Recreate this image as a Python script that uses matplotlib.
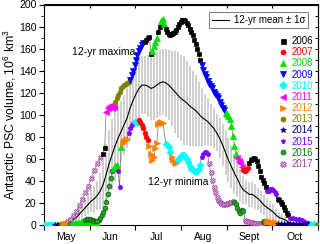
import matplotlib
matplotlib.use('Agg')
import matplotlib.pyplot as plt
import numpy as np
from matplotlib.lines import Line2D

plt.rcParams['font.family'] = ['Liberation Sans', 'DejaVu Sans']
plt.rcParams['mathtext.default'] = 'regular'

# ---------------- data ----------------
years = [2006, 2007, 2008, 2009, 2010, 2011, 2012, 2013, 2014, 2015, 2016, 2017]
year_colors = ['#000000', '#ff0000', '#00e000', '#0000ff', '#00ffff', '#ff00ff',
               '#ff8000', '#808000', '#000080', '#8000ff', '#008000', '#a040a0']
year_markers = ['s', 'o', '^', 'v', 'D', '<', '>', 'o', '*', 'p', 'o', 'X']

# 12-yr mean and standard deviation (day of year)
mean_days = [133, 135, 137, 139, 141, 143, 145, 147, 149, 151, 153, 155, 157, 159, 161, 163,
             165, 167, 169, 171, 173, 175, 177, 179, 181, 183, 185, 187, 189, 191, 193, 195,
             197, 199, 201, 203, 205, 207, 209, 211, 213, 215, 217, 219, 221, 223, 225, 227,
             229, 231, 233, 235, 237, 239, 241, 243, 245, 247, 249, 251, 253, 255, 257, 259,
             261, 263, 265, 267, 269, 271, 273, 275, 277, 279, 281, 283, 285, 287, 289, 291, 293]
mean_vals = [0, 1, 2, 3, 5, 7, 10, 13, 16, 19, 22, 24, 27, 31, 37, 46,
             56, 64, 72, 79, 85, 91, 97, 106, 113, 119, 124, 127, 127, 126, 124, 125,
             127, 129, 130, 129, 127, 124, 121, 118, 115, 113, 111, 108, 106, 104, 101, 98,
             96, 94, 91, 88, 84, 79, 73, 66, 59, 53, 47, 42, 36, 32, 30, 28,
             28, 26, 24, 21, 18, 16, 14, 12, 9, 7, 6, 5, 3, 2, 1, 1, 0]
sigma_vals = [0, 1, 2, 3, 4, 5, 6, 7, 8, 9, 10, 12, 13, 16, 22, 28,
              30, 32, 32, 30, 28, 27, 27, 28, 28, 28, 27, 26, 26, 28, 29, 30,
              30, 30, 30, 31, 32, 34, 37, 39, 39, 40, 38, 36, 34, 32, 29, 26,
              23, 21, 19, 18, 17, 18, 19, 20, 20, 19, 18, 16, 15, 13, 11, 11,
              11, 11, 10, 10, 9, 9, 8, 7, 6, 5, 4, 3, 2, 2, 1, 1, 1]

# 12-yr maxima: (year, days, values)
max_segments = [
    (2017, [133, 135, 137, 139, 141, 143, 145, 147, 149, 151, 153, 155, 157, 159],
           [1, 2, 4, 6, 9, 13, 18, 24, 30, 36, 43, 50, 56, 62]),
    (2006, [161, 162], [65, 70]),
    (2011, [163, 164, 165, 166, 167, 168], [103, 106, 108, 108, 106, 107]),
    (2013, [169, 170, 171, 172, 173, 174, 175, 176, 177, 178],
           [112, 115, 118, 121, 124, 126, 127, 128, 129, 130]),
    (2009, [179, 180, 181, 182, 183, 184, 185, 186, 187, 188],
           [132, 136, 140, 145, 150, 154, 158, 161, 163, 165]),
    (2006, [189, 190, 191, 192, 193], [166, 168, 170, 171, 155]),
    (2008, [194, 195, 196, 197], [158, 162, 166, 170]),
    (2006, [198, 199], [175, 180]),
    (2008, [200, 201, 202], [185, 187, 182]),
    (2006, [203, 204, 205, 206, 207, 208, 209, 210, 211, 212, 213, 214, 215, 216, 217, 218,
            219, 220, 221, 222, 223, 224, 225, 226],
           [178, 175, 173, 172, 173, 174, 175, 177, 180, 182, 184, 186, 186, 185, 183, 181,
            178, 175, 172, 168, 164, 160, 155, 150]),
    (2009, [227, 228, 229, 230, 231, 232, 233, 234, 235, 236, 237, 238, 239, 240, 241, 242],
           [145, 141, 137, 134, 131, 128, 126, 124, 121, 119, 117, 115, 112, 109, 106, 104]),
    (2008, [243, 244, 245, 246, 247, 248, 249, 250], [102, 101, 99, 96, 90, 81, 72, 65]),
    (2011, [251, 252, 253, 254], [61, 58, 56, 53]),
    (2007, [255, 256, 257, 258], [50, 49, 50, 52]),
    (2006, [259, 260, 261, 262, 263, 264, 265, 266, 267, 268, 269, 270],
           [56, 59, 60, 61, 60, 58, 54, 49, 44, 41, 38, 35]),
    (2015, [271, 272, 273, 274, 275, 276, 277], [31, 31, 33, 33, 32, 30, 28]),
    (2006, [278, 279, 280, 281, 282, 283, 284, 285], [24, 23, 21, 19, 17, 14, 11, 9]),
    (2015, [286, 288, 290, 292, 294, 296, 298], [7, 7, 6, 6, 5, 3, 2]),
    (2010, [300, 302], [1, 1]),
    (2013, [304], [0.5]),
]

# 12-yr minima: (year, days, values)
min_segments = [
    (2010, [121, 122, 123, 124, 125, 126, 127, 128], [0.5, 0.5, 0.5, 0.5, 0.5, 0.5, 0.5, 0.5]),
    (2014, [129, 130, 131, 132], [0.5, 0.5, 0.5, 0.5]),
    (2013, [133, 134], [0.8, 0.8]),
    (2012, [135, 136, 137, 138], [1, 1, 1, 1]),
    (2016, [139], [1]),
    (2008, [140, 141, 142, 143, 144, 145, 146, 147, 148, 149, 150, 151, 152, 153, 154, 155, 156, 157],
           [1.5, 1.5, 2, 2, 2.5, 2.5, 3, 3, 3, 2.5, 2, 2, 2, 2, 1.5, 1.5, 1.5, 2]),
    (2016, [158, 159, 160, 161, 162, 163, 164, 165, 166, 167], [5, 7, 9, 12, 16, 21, 28, 36, 43, 49]),
    (2008, [168, 169, 170], [52, 54, 55]),
    (2015, [171, 172], [49, 35]),
    (2008, [173], [71]),
    (2012, [174, 175, 176, 177], [75, 76, 77, 78]),
    (2015, [178, 179, 180, 181], [84, 88, 91, 93]),
    (2010, [182, 183, 184], [94, 94, 93]),
    (2007, [185, 186, 187, 188, 189, 190, 191], [95, 94, 91, 88, 84, 80, 77]),
    (2012, [192, 193, 194, 195, 196, 197, 198, 199, 200, 201], [72, 65, 59, 62, 70, 75, 92, 93, 94, 93]),
    (2010, [203, 204, 205, 206], [74, 73, 71, 66]),
    (2012, [207, 208, 209, 210], [62, 59, 57, 56]),
    (2010, [211, 212, 213, 214, 215, 216, 217, 218, 219, 220, 221, 222, 223, 224, 225, 226],
           [59, 61, 63, 64, 64, 62, 60, 57, 54, 51, 50, 49, 48, 49, 51, 55]),
    (2015, [227, 228, 229, 230, 231], [62, 65, 66, 66, 65]),
    (2017, [232, 233, 234, 235, 236, 237, 238, 239, 240, 241, 242, 243, 244, 245, 246, 247, 248],
           [56, 48, 41, 35, 30, 26, 23, 21, 20, 19, 19, 19, 20, 20, 21, 21, 22]),
    (2016, [249, 250, 251, 252, 253, 254, 255], [21, 19, 16, 13, 11, 14, 13]),
    (2017, [256, 257, 258, 259, 260, 261, 262, 263, 264, 265, 266, 267],
           [5, 4, 4, 3, 3, 3, 2, 2, 2, 2, 1.5, 1.5]),
    (2016, [268, 269, 270], [3, 4, 3]),
    (2012, [271, 272, 273, 274, 275, 276, 277], [3, 4, 3, 3, 2, 3, 2]),
    (2014, [278, 280, 282, 284, 286, 288, 290, 292, 294, 296, 298],
           [1, 1, 1, 1, 1, 1, 1, 1, 1, 1, 1]),
    (2010, [300, 302], [0.5, 0.5]),
    (2013, [304], [0.5]),
]

# 2016 near-zero hump in early June (second-lowest values)
extra_segments = [
    (2016, [149, 150, 151, 152, 153, 154, 155, 156, 157], [5, 6, 6, 6, 5, 5, 4, 4, 4]),
]

month_starts = [121, 152, 182, 213, 244, 274, 305]
month_mids = [136, 166, 197, 228, 259, 289]
month_labels = ['May', 'Jun', 'Jul', 'Aug', 'Sept', 'Oct']

# ---------------- plot ----------------
fig = plt.figure(figsize=(3.2, 2.44), dpi=100)
ax = fig.add_axes([43.5 / 320, 18.7 / 244, 274.5 / 320, 220.8 / 244])

md = np.array(mean_days)
mv = np.array(mean_vals, dtype=float)
sv = np.array(sigma_vals, dtype=float)
ax.vlines(md, mv - sv, mv + sv, colors='#cacaca', lw=1.3, zorder=1)
ax.plot(md, mv, color='k', lw=0.8, zorder=3)

style = {y: (c, m) for y, c, m in zip(years, year_colors, year_markers)}


def marker_kw(yr, base):
    c, m = style[yr]
    kw = dict(ls='none', marker=m, ms=base, color=c, mec=c, mew=0.5)
    if yr == 2016:
        kw.update(mfc='#2ea02e', mec='#006400')
    if yr == 2017:
        kw.update(mfc='#e4b4e4', mec='#a040a0', ms=base + 0.2)
    if yr in (2008, 2009, 2011, 2012):
        kw.update(ms=base + 0.4)
    if yr == 2014:
        kw.update(ms=base + 0.8)
    return kw


def draw_marks(days, vals, yr):
    ax.plot(days, vals, zorder=5, **marker_kw(yr, 3.4))


for segs in (max_segments, min_segments):
    all_d = [d for s in segs for d in s[1]]
    all_v = [v for s in segs for v in s[2]]
    ax.plot(all_d, all_v, color='0.45', lw=0.5, zorder=2)
    for yr, d, v in segs:
        draw_marks(d, v, yr)
for yr, d, v in extra_segments:
    draw_marks(d, v, yr)

ax.set_xlim(121, 305)
ax.set_ylim(0, 200)

ax.set_xticks(month_starts)
ax.set_xticklabels([])
ax.set_xticks(month_mids, minor=True)
ax.set_xticklabels(month_labels, minor=True)
ax.tick_params(axis='x', which='major', direction='out', length=3.5, width=0.8)
ax.tick_params(axis='x', which='minor', length=0, pad=4.5, labelsize=7.5)
ax.set_yticks(np.arange(0, 201, 20))
ax.set_yticks(np.arange(0, 201, 10), minor=True)
ax.tick_params(axis='y', which='major', direction='out', length=3.5, width=0.8, labelsize=7.5, pad=1.5)
ax.tick_params(axis='y', which='minor', direction='out', length=2, width=0.6)

secx = ax.secondary_xaxis('top')
secx.set_xticks(month_starts)
secx.tick_params(direction='in', length=3, width=0.8, labeltop=False)
secy = ax.secondary_yaxis('right')
secy.set_yticks(np.arange(0, 201, 10))
secy.tick_params(direction='in', length=2.5, width=0.7, labelright=False)

for sp in list(ax.spines.values()):
    sp.set_linewidth(0.8)

ax.set_ylabel('Antarctic PSC volume, 10$^6$ km$^3$', fontsize=8.8, labelpad=0.5)

ax.text(161.5, 157, '12-yr maxima', fontsize=7.5, ha='center', va='center', zorder=6)
ax.text(211.5, 39.5, '12-yr minima', fontsize=7.5, ha='center', va='center', zorder=6)

mean_handle = Line2D([], [], color='k', lw=0.8)
leg1 = ax.legend([mean_handle], ['12-yr mean \u00b1 1\u03c3'], loc='upper right',
                 bbox_to_anchor=(0.965, 0.966), frameon=True, fancybox=False,
                 edgecolor='0.35', fontsize=7.0, handlelength=1.8, borderpad=0.3,
                 handletextpad=0.5, borderaxespad=0)
leg1.get_frame().set_linewidth(0.7)
ax.add_artist(leg1)

yr_handles = [Line2D([], [], **marker_kw(yr, 3.6)) for yr in years]
leg2 = ax.legend(yr_handles, [str(y) for y in years], loc='upper left',
                 bbox_to_anchor=(0.857, 0.857), frameon=False, fontsize=7,
                 handlelength=0.8, handletextpad=0.55, labelspacing=0.12,
                 borderpad=0, borderaxespad=0, labelcolor=year_colors)

fig.savefig('out.png', dpi=100)
